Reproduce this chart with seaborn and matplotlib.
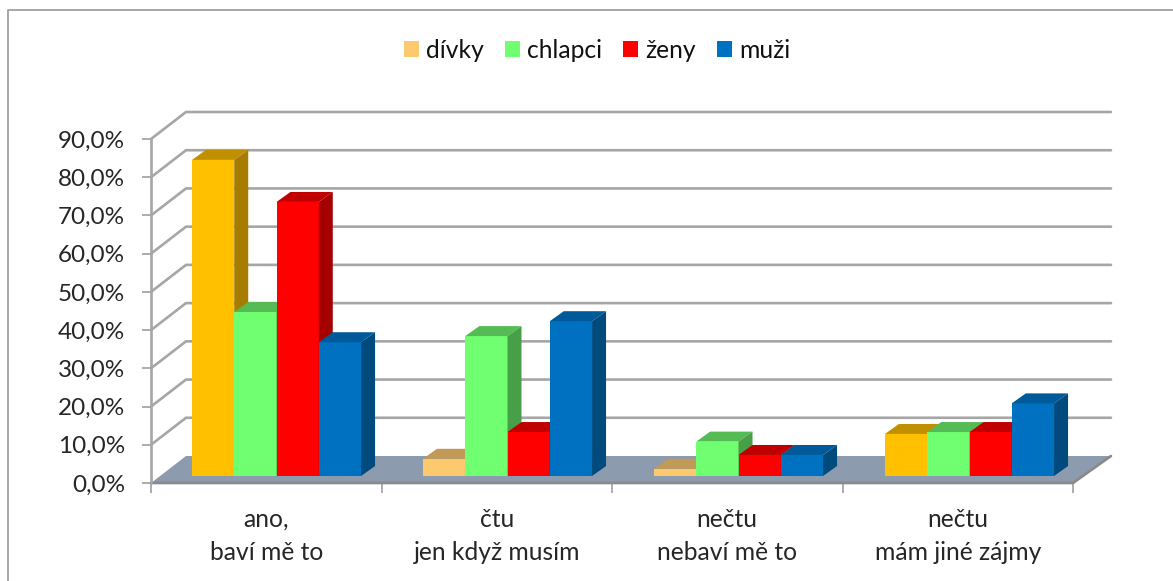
import matplotlib
matplotlib.use('Agg')
import matplotlib.pyplot as plt
from matplotlib.lines import Line2D
from matplotlib.patches import Polygon
import pandas as pd
import seaborn as sns

# Data
categories = ['ano,\nbaví mě to', 'čtu\njen když musím', 'nečtu\nnebaví mě to', 'nečtu\nmám jiné zájmy']
divky = [82.7, 4.5, 1.9, 11.0]
chlapci = [42.9, 36.6, 9.0, 11.5]
zeny = [71.7, 11.5, 5.5, 11.5]
muzi = [35.0, 40.5, 5.5, 19.0]
series_names = ['dívky', 'chlapci', 'ženy', 'muži']
y_ticks = [0, 10, 20, 30, 40, 50, 60, 70, 80, 90]

# front, top and side colours of each series
front_colors = ['#FDC96F', '#70FF70', '#FF0000', '#0070C0']
top_colors = ['#C19A55', '#55BB55', '#C00000', '#005A9A']
side_colors = ['#AD8A4C', '#47A047', '#A50000', '#004A7E']
# dívky is a stronger orange in the first and last group
strong_front = '#FFC000'
strong_top = '#C09000'
strong_side = '#A67D00'
strong_groups = [0, 3]

grid_color = '#A6A6A6'
floor_color = '#8C9BAE'
W, H = 1173, 581
CAT_PX = 230.5
BAR_CAT_PX = 231
PCT_PX = 344 / 90

sns.set_theme(style='white')
plt.rcParams['font.family'] = ['Lato', 'DejaVu Sans']
plt.rcParams['text.color'] = '#111111'

df = pd.DataFrame({'category': categories * 4,
                   'series': [s for s in series_names for _ in categories],
                   'value': divky + chlapci + zeny + muzi})

fig = plt.figure(figsize=(W / 100, H / 100), dpi=100, facecolor='white')
# chart frame is cut off by the picture: only top and left show
fig.add_artist(Line2D([8 / W, 8 / W, 1], [0, (H - 10) / H, (H - 10) / H], color='#A0A0A0',
                      linewidth=1.3, transform=fig.transFigure))

# Walls and axis sit on the front plane, bars a little further in
wall = fig.add_axes([151 / W, (H - 483) / H, 4 * CAT_PX / W, 344 / H])
ax = fig.add_axes([161 / W, (H - 476) / H, 4 * BAR_CAT_PX / W, 344 / H])
ax.patch.set_alpha(0)

# Wall
wall.set_xlim(-0.5, 3.5)
wall.set_ylim(0, 90)
back_x = 35 / CAT_PX
back_y = 27 / PCT_PX
right_x = 3.5 + 38 / CAT_PX
for v in y_ticks[1:]:
    wall.plot([-0.5, -0.5 + back_x, right_x], [v, v + back_y, v + back_y],
              color=grid_color, lw=1.9, clip_on=False, solid_joinstyle='miter')
wall.add_patch(Polygon([(-0.5, 0), (3.5, 0), (right_x, back_y), (-0.5 + back_x, back_y)],
                       facecolor=floor_color, edgecolor='none', clip_on=False))
wall.plot([-0.5, 3.5, right_x], [0, 0, back_y], color='#8A8A8A', lw=1.9, clip_on=False)
wall.plot([-0.5, -0.5], [0, 90], color=grid_color, lw=1.9, clip_on=False)

wall.set_yticks(y_ticks)
wall.set_yticklabels([f'{v:.1f}%'.replace('.', ',') for v in y_ticks], fontsize=17.5)
wall.set_xticks([-0.5, 0.5, 1.5, 2.5, 3.5])
wall.set_xticklabels([])
wall.set_xticks(range(4), categories, minor=True, fontsize=17.7, linespacing=1.54)
wall.tick_params(axis='y', length=6.5, width=1.3, color=grid_color, pad=12, left=True)
wall.tick_params(axis='x', which='major', length=7, width=1.3, color=grid_color, bottom=True)
wall.tick_params(axis='x', which='minor', length=0, pad=18)
sns.despine(ax=wall, left=True, bottom=True)

# Bars
sns.barplot(data=df, x='category', y='value', hue='series', palette=front_colors,
            width=0.732, saturation=1, gap=0, linewidth=0, ax=ax)
ax.set_xlim(-0.5, 3.5)
ax.set_ylim(0, 90)
ax.set_xlabel('')
ax.set_ylabel('')
ax.set_xticks([])
ax.set_yticks([])
sns.despine(ax=ax, left=True, bottom=True)

depth_x = 14 / BAR_CAT_PX
depth_y = 10 / PCT_PX
for i, bars in enumerate(ax.containers):
    for j, bar in enumerate(bars):
        strong = i == 0 and j in strong_groups
        if strong:
            bar.set_facecolor(strong_front)
        bar.set_zorder(3 + i)
        x0 = bar.get_x()
        x1 = x0 + bar.get_width()
        h = bar.get_height()
        top = Polygon([(x0, h), (x1, h), (x1 + depth_x, h + depth_y), (x0 + depth_x, h + depth_y)],
                      facecolor=strong_top if strong else top_colors[i], edgecolor='none',
                      zorder=3 + i, clip_on=False)
        side = Polygon([(x1, 0), (x1 + depth_x, depth_y), (x1 + depth_x, h + depth_y), (x1, h)],
                       facecolor=strong_side if strong else side_colors[i], edgecolor='none',
                       zorder=3 + i, clip_on=False)
        ax.add_patch(top)
        ax.add_patch(side)
        bar.set_clip_on(False)

handles, labels = ax.get_legend_handles_labels()
ax.legend(handles, labels, loc='center', bbox_to_anchor=(597 / W, (H - 50) / H),
          bbox_transform=fig.transFigure, ncols=4, frameon=False, fontsize=17.7,
          handlelength=0.61, handleheight=0.61, handletextpad=0.3, columnspacing=0.85)

plt.savefig('out.png', dpi=100)
